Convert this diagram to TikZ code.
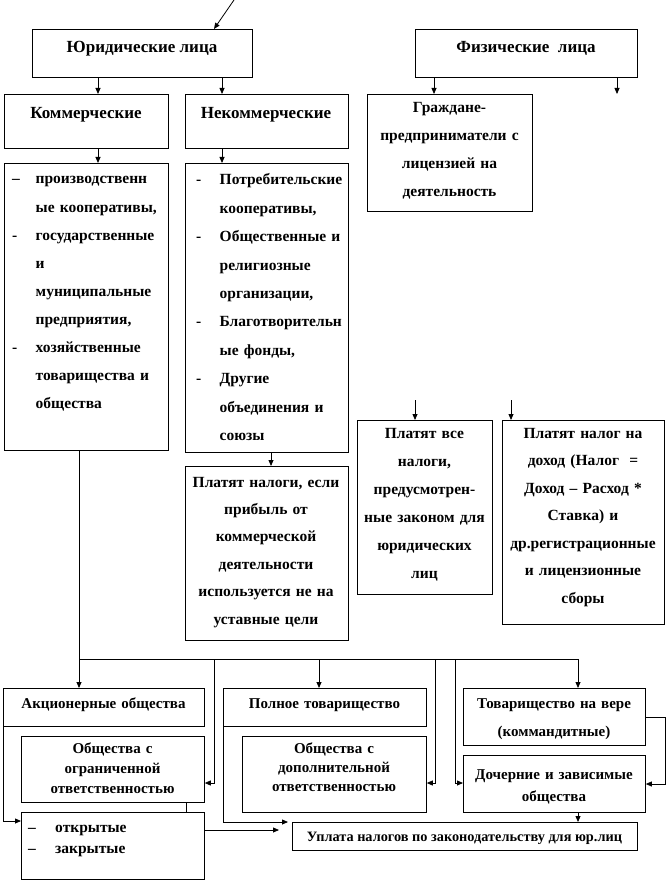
\documentclass[tikz,border=0pt]{standalone}
\usepackage{fontspec}
\setmainfont{Liberation Serif}
\usetikzlibrary{arrows.meta}
\newcommand\lidash[1]{\makebox[23.5pt][l]{#1}}
\newcommand\liskip{\makebox[23.5pt]{}}
\begin{document}
\begin{tikzpicture}[x=1pt,y=-1pt,
  bx/.style={draw, line width=0.8pt, inner sep=0pt, anchor=north west},
  ln/.style={line width=0.8pt},
  arr/.style={line width=0.8pt, -{Triangle[length=6pt,width=5pt]}},
  hd/.style={inner sep=0pt, anchor=base, font=\bfseries\fontsize{17}{20}\selectfont},
  tc/.style n args={2}{inner sep=0pt, anchor=base, align=center, text width=#1pt, font=\bfseries\fontsize{15.5}{#2}\selectfont},
  tb/.style n args={2}{inner sep=0pt, anchor=base, align=center, text width=#1pt, font=\bfseries\fontsize{15}{#2}\selectfont},
  tl/.style n args={2}{inner sep=0pt, anchor=base west, align=left, text width=#1pt, font=\bfseries\fontsize{15.5}{#2}\selectfont}
]
\useasboundingbox (0,0) rectangle (668,882);
% boxes
\node[bx, minimum width=220pt, minimum height=48pt] (yur) at (32,29) {};
\node[bx, minimum width=222pt, minimum height=48pt] (fiz) at (415,29) {};
\node[bx, minimum width=164pt, minimum height=54pt] (kom) at (4,94) {};
\node[bx, minimum width=163pt, minimum height=54pt] (nekom) at (185,94) {};
\node[bx, minimum width=165pt, minimum height=117pt] (grazh) at (367,94) {};
\node[bx, minimum width=164pt, minimum height=287pt] (llist) at (4,163) {};
\node[bx, minimum width=163pt, minimum height=289pt] (mlist) at (185,163) {};
\node[bx, minimum width=163pt, minimum height=174pt] (plat) at (185,466) {};
\node[bx, minimum width=135pt, minimum height=174pt] (vse) at (357,420) {};
\node[bx, minimum width=162pt, minimum height=204pt] (doh) at (502,420) {};
\node[bx, minimum width=201pt, minimum height=38pt] (akc) at (3,688) {};
\node[bx, minimum width=203pt, minimum height=38pt] (poln) at (223,688) {};
\node[bx, minimum width=182pt, minimum height=57pt] (tov) at (463,688) {};
\node[bx, minimum width=183pt, minimum height=66pt] (osoo) at (21,736) {};
\node[bx, minimum width=184pt, minimum height=76pt] (osdo) at (242,736) {};
\node[bx, minimum width=182pt, minimum height=57pt] (doch) at (463,755) {};
\node[bx, minimum width=183pt, minimum height=67pt] (otk) at (21,812) {};
\node[bx, minimum width=345pt, minimum height=28pt] (upl) at (292,822) {};
% texts
\node[hd] (yurT) at (142,53) {Юридические лица};
\node[hd] (fizT) at (526,53) {Физические\ \ лица};
\node[hd] (komT) at (86,119) {Коммерческие};
\node[hd] (nekomT) at (266,119) {Некоммерческие};
\node[tc={160}{28}] (grazhT) at (449.5,113) {Граждане-\\предприниматели с\\лицензией на\\деятельность};
\node[tl={156}{28.1}] (llistT) at (12,184) {\lidash{–}производственн\\
\liskip ые кооперативы,\\
\lidash{-}государственные\\
\liskip и\\
\liskip муниципальные\\
\liskip предприятия,\\
\lidash{-}хозяйственные\\
\liskip товарищества и\\
\liskip общества};
\node[tl={150}{28.4}] (mlistT) at (196,185) {\lidash{-}Потребительские\\
\liskip кооперативы,\\
\lidash{-}Общественные и\\
\liskip религиозные\\
\liskip организации,\\
\lidash{-}Благотворительн\\
\liskip ые фонды,\\
\lidash{-}Другие\\
\liskip объединения и\\
\liskip союзы};
\node[tc={160}{27.4}] (platT) at (266,487) {Платят налоги, если\\прибыль от\\коммерческой\\деятельности\\используется не на\\уставные цели};
\node[tc={132}{28}] (vseT) at (424.5,438) {Платят все\\налоги,\\предусмотрен-\\ные законом для\\юридических\\лиц};
\node[tc={160}{27.5}] (dohT) at (583,438) {Платят налог на\\доход (Налог \ =\\Доход – Расход *\\Ставка) и\\др.регистрационные\\и лицензионные\\сборы};
\node[tb={196}{20}] (akcT) at (103.5,708) {Акционерные общества};
\node[tb={200}{20}] (polnT) at (324.5,708) {Полное товарищество};
\node[tb={180}{28}] (tovT) at (554,708) {Товарищество на вере\\(коммандитные)};
\node[tb={180}{20}] (osooT) at (112.5,753) {Общества с\\ограниченной\\ответственностью};
\node[tb={180}{19}] (osdoT) at (334,753) {Общества с\\дополнительной\\ответственностью};
\node[tb={180}{22}] (dochT) at (554,779) {Дочерние и зависимые\\общества};
\node[tl={170}{21}] (otkT) at (28,832) {\makebox[27pt][l]{–}открытые\\\makebox[27pt][l]{–}закрытые};
\node[inner sep=0pt, anchor=base, font=\bfseries\fontsize{14.3}{18}\selectfont] (uplT) at (464.5,841) {Уплата налогов по законодательству для юр.лиц};
% connectors
\coordinate (topin) at (234,0);
\draw[arr] (topin) -- ([xshift=182pt]yur.north west);
\draw[arr] (yur.south -| 98,0) -- (kom.north -| 98,0);
\draw[arr] (yur.south -| 222,0) -- (nekom.north -| 222,0);
\draw[arr] (fiz.south -| 434,0) -- (grazh.north -| 434,0);
\coordinate (fizfree) at (617,94);
\draw[arr] (fiz.south -| fizfree) -- (fizfree);
\draw[arr] (kom.south -| 98,0) -- (llist.north -| 98,0);
\draw[arr] (nekom.south -| 222,0) -- (mlist.north -| 222,0);
\coordinate (vsefree) at (415,400);
\draw[arr] (vsefree) -- (vse.north -| vsefree);
\coordinate (dohfree) at (511,400);
\draw[arr] (dohfree) -- (doh.north -| dohfree);
\draw[arr] (mlist.south -| 271,0) -- (plat.north -| 271,0);
\coordinate (bus) at (79,659);
\draw[arr] (llist.south -| bus) -- (akc.north -| bus);
\draw[arr] (bus) -| (tov.north -| 578,0);
\draw[arr] (bus -| 214,0) |- (osoo.east |- 0,783);
\draw[arr] (bus -| 319,0) -- (poln.north -| 319,0);
\draw[arr] (bus -| 435,0) |- (osdo.east |- 0,783);
\draw[arr] (bus -| 455,0) |- (doch.west |- 0,783);
\draw[arr] (tov.east |- 0,717) -- ++(20,0) |- (doch.east |- 0,784);
\draw[arr] (doch.south -| 578,0) -- (upl.north -| 578,0);
\draw[arr] (akc.south west) |- (otk.west |- 0,821);
\draw[ln] (osoo.south -| 186,0) -- (otk.north -| 186,0);
\draw[arr, shorten >=13pt] (otk.east |- 0,830) -- (upl.west |- 0,830);
\draw[arr, shorten >=4pt] (poln.south west) |- (upl.north west);
\end{tikzpicture}
\end{document}
